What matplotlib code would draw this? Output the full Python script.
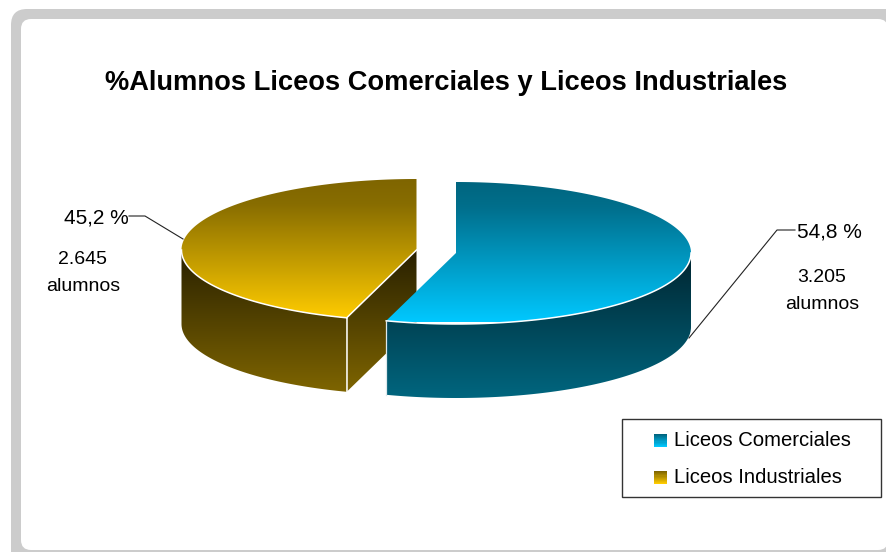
import matplotlib
matplotlib.use("Agg")
import matplotlib.pyplot as plt
from matplotlib.colors import LinearSegmentedColormap
from matplotlib.legend_handler import HandlerBase
from matplotlib.patches import FancyBboxPatch, PathPatch, Patch, Rectangle
from matplotlib.path import Path
import numpy as np

plt.rcParams["font.family"] = ["Liberation Sans", "DejaVu Sans"]

categories = ["Liceos Comerciales", "Liceos Industriales"]
shares = [54.8, 45.2]
alumnos = ["3.205", "2.645"]
title = "%Alumnos Liceos Comerciales y Liceos Industriales"

TOP_COLORS = [("#00657F", "#006F8C", "#00C8FF"), ("#7F6500", "#886D00", "#FFCC00")]
SIDE_COLORS = [("#002530", "#00667F"), ("#282000", "#806600")]

# pie geometry in image pixels
CENTERS = [(456.0, 253.0), (416.5, 250.0)]
RX, RY = 235.0, 71.0
DEPTH = 74.0

fig = plt.figure(figsize=(8.87, 5.52), dpi=100, facecolor="white")
ax = fig.add_axes([0, 0, 1, 1])
ax.axis("off")

z = 2.0  # painter's order, bumped for each piece of the pie


def next_z():
    global z
    z += 0.01
    return z


def rim(center, a0, a1, n=120):
    t = np.radians(np.linspace(a0, a1, n))
    return np.column_stack([center[0] + RX * np.sin(t), center[1] - RY * np.cos(t)])


def gradient_fill(pts, colors, y0, y1):
    path = Path(np.vstack([pts, pts[:1]]), closed=True)
    clip = PathPatch(path, transform=ax.transData, facecolor="none", edgecolor="none")
    ax.add_patch(clip)
    if len(colors) == 3:
        stops = list(zip((0.0, 0.18, 1.0), colors))
    else:
        stops = list(colors)
    cmap = LinearSegmentedColormap.from_list("g", stops)
    im = ax.imshow(np.linspace(0, 1, 256)[:, None], cmap=cmap, aspect="auto",
                   extent=(pts[:, 0].min() - 1, pts[:, 0].max() + 1, y1, y0),
                   origin="upper", zorder=next_z())
    im.set_clip_path(clip)


def draw_wedge(center, a0, a1, top, side):
    # outer wall: only the part of the rim that faces the viewer
    lo, hi = max(a0, 90.0), min(a1, 270.0)
    front = rim(center, lo, hi)
    wall = np.vstack([front, front[::-1] + [0, DEPTH]])
    y_top = center[1] - RY
    y_low = center[1] + RY + DEPTH
    gradient_fill(wall, side, center[1], y_low)
    apex = np.array(center)
    if a0 > 180:
        # the cut face is visible on the left slice
        tip = rim(center, a0, a0, 1)[0]
        cut = np.array([tip, apex, apex + [0, DEPTH], tip + [0, DEPTH]])
        gradient_fill(cut, side, center[1], y_low)
    else:
        tip = rim(center, a1, a1, 1)[0]
    face = np.vstack([apex, rim(center, a0, a1, 240)])
    gradient_fill(face, top, y_top, center[1] + RY * 0.97)
    zl = next_z()
    ax.plot(front[:, 0], front[:, 1], color="white", lw=1.1, zorder=zl)
    if a0 > 180:
        ax.plot([tip[0], tip[0]], [tip[1], tip[1] + DEPTH], color="white", lw=1.1, zorder=zl)
        ax.plot([tip[0], apex[0]], [tip[1], apex[1]], color="white", lw=1.1, zorder=zl)
    else:
        ax.plot([tip[0], tip[0]], [tip[1], tip[1] + DEPTH], color="#DDE8EC", lw=0.9, zorder=zl)


# background card
ax.add_patch(FancyBboxPatch((11, 9), 920, 580, boxstyle="round,pad=0,rounding_size=16",
                            facecolor="#CCCCCC", edgecolor="none", zorder=1))
ax.add_patch(FancyBboxPatch((21, 19), 867, 531, boxstyle="round,pad=0,rounding_size=10",
                            facecolor="white", edgecolor="none", zorder=1.1))

# slices start at 12 o'clock and run clockwise
angles = np.cumsum([0.0] + shares) / sum(shares) * 360
draw_wedge(CENTERS[1], angles[1], angles[2], TOP_COLORS[1], SIDE_COLORS[1])
draw_wedge(CENTERS[0], angles[0], angles[1], TOP_COLORS[0], SIDE_COLORS[0])

ax.set_xlim(0, 887)
ax.set_ylim(552, 0)

ax.text(446, 83.5, title, ha="center", va="center", fontsize=19.6, fontweight="bold", color="black")

# labels and leader lines
ax.plot([795, 777, 689], [230, 230, 338], color="#222222", lw=0.8, zorder=3)
ax.plot([129, 145, 183], [216, 216, 239], color="#222222", lw=0.8, zorder=3)
ax.text(829, 232, f"{shares[0]:.1f} %".replace(".", ","), ha="center", va="center", fontsize=15, zorder=4)
ax.text(822, 291, f"{alumnos[0]}\nalumnos", ha="center", va="center", fontsize=14, linespacing=1.8, zorder=4)
ax.text(96, 218, f"{shares[1]:.1f} %".replace(".", ","), ha="center", va="center", fontsize=15, zorder=4)
ax.text(83, 273, f"{alumnos[1]}\nalumnos", ha="center", va="center", fontsize=14, linespacing=1.8, zorder=4)


class GradientSwatch(HandlerBase):
    def __init__(self, colors):
        super().__init__()
        self.colors = colors

    def create_artists(self, legend, orig_handle, xdescent, ydescent, width, height, fontsize, trans):
        size = 9.4
        x0 = width - size
        y0 = (height - size) / 2 - 1
        cmap = LinearSegmentedColormap.from_list("s", self.colors)
        n = 12
        return [Rectangle((x0, y0 + size * (n - 1 - i) / n), size, size / n + 0.05,
                          facecolor=cmap(i / (n - 1)), edgecolor="none", transform=trans)
                for i in range(n)]


# legend
ax.add_patch(Rectangle((622, 419), 259, 78, facecolor="white", edgecolor="#333333", lw=1.0, zorder=3))
handles = [Patch(label=c) for c in categories]
leg = ax.legend(handles=handles, loc="upper left", bbox_to_anchor=(625 / 887, 1 - 422 / 552),
                frameon=False, fontsize=14.6, borderaxespad=0, borderpad=0.45,
                handlelength=1.62, handletextpad=0.35, labelspacing=0.9,
                handler_map={handles[0]: GradientSwatch(TOP_COLORS[0][::2]),
                             handles[1]: GradientSwatch(TOP_COLORS[1][::2])})
leg.set_zorder(5)

fig.savefig("out.png", dpi=100)
